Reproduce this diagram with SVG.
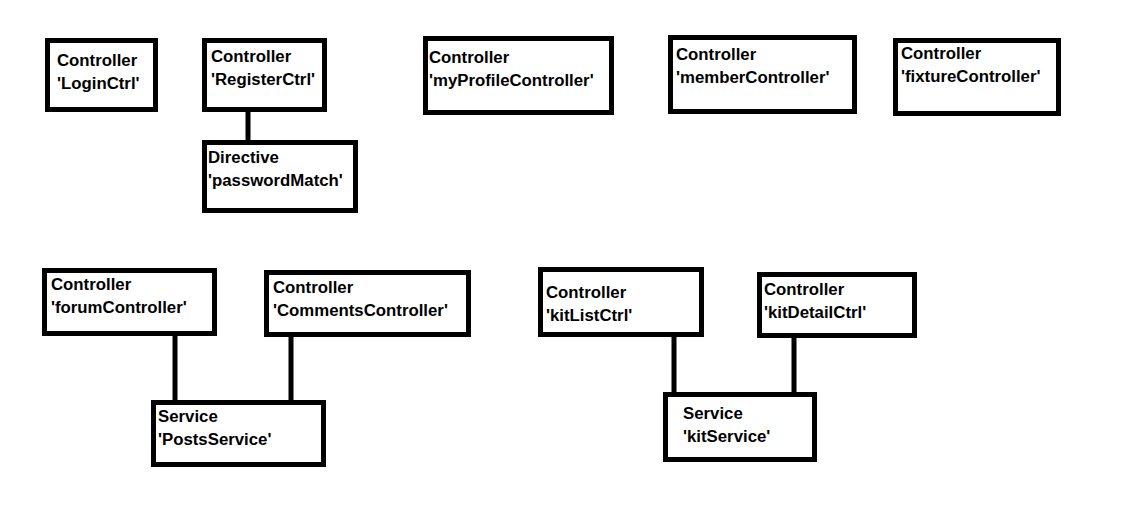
<svg xmlns="http://www.w3.org/2000/svg" width="1128" height="514" viewBox="0 0 1128 514">
<style>
.box{fill:#fff;stroke:#000;stroke-width:5}
.ln{stroke:#000;stroke-width:5;fill:none}
text{font-family:"Liberation Sans",Arial,sans-serif;font-weight:bold;font-size:16.8px;fill:#000}
</style>
<rect width="1128" height="514" fill="#fff"/>
<g id="connectors">
<line class="ln" x1="248" y1="111" x2="248" y2="141"/>
<line class="ln" x1="175" y1="335" x2="175" y2="401"/>
<line class="ln" x1="291" y1="336" x2="291" y2="401"/>
<line class="ln" x1="674" y1="336" x2="674" y2="393"/>
<line class="ln" x1="794" y1="337" x2="794" y2="393"/>
</g>
<g id="loginCtrl"><rect class="box" x="47.5" y="40.5" width="108" height="69"/><text x="57" y="66">Controller</text><text x="57" y="89">'LoginCtrl'</text></g>
<g id="registerCtrl"><rect class="box" x="204.5" y="40.5" width="120" height="69"/><text x="211" y="62">Controller</text><text x="211" y="85">'RegisterCtrl'</text></g>
<g id="passwordMatch"><rect class="box" x="204.5" y="142.5" width="151" height="68"/><text x="208" y="163">Directive</text><text x="208" y="186">'passwordMatch'</text></g>
<g id="myProfileController"><rect class="box" x="425.5" y="38.5" width="186" height="74"/><text x="429" y="63">Controller</text><text x="429" y="86">'myProfileController'</text></g>
<g id="memberController"><rect class="box" x="670.5" y="37.5" width="184" height="74"/><text x="676" y="60">Controller</text><text x="676" y="83">'memberController'</text></g>
<g id="fixtureController"><rect class="box" x="895.5" y="40.5" width="163" height="73"/><text x="901" y="59">Controller</text><text x="901" y="82">'fixtureController'</text></g>
<g id="forumController"><rect class="box" x="44.5" y="270.5" width="170" height="63"/><text x="51" y="290">Controller</text><text x="51" y="313">'forumController'</text></g>
<g id="commentsController"><rect class="box" x="266.5" y="272.5" width="202" height="62"/><text x="273" y="293">Controller</text><text x="273" y="316">'CommentsController'</text></g>
<g id="postsService"><rect class="box" x="153.5" y="402.5" width="170" height="62"/><text x="158" y="422">Service</text><text x="158" y="445">'PostsService'</text></g>
<g id="kitListCtrl"><rect class="box" x="540.5" y="269.5" width="161" height="65"/><text x="546" y="298">Controller</text><text x="546" y="321">'kitListCtrl'</text></g>
<g id="kitDetailCtrl"><rect class="box" x="759.5" y="274.5" width="155" height="61"/><text x="764" y="295">Controller</text><text x="764" y="318">'kitDetailCtrl'</text></g>
<g id="kitService"><rect class="box" x="665.5" y="394.5" width="149" height="65"/><text x="683" y="419">Service</text><text x="683" y="442">'kitService'</text></g>
</svg>
